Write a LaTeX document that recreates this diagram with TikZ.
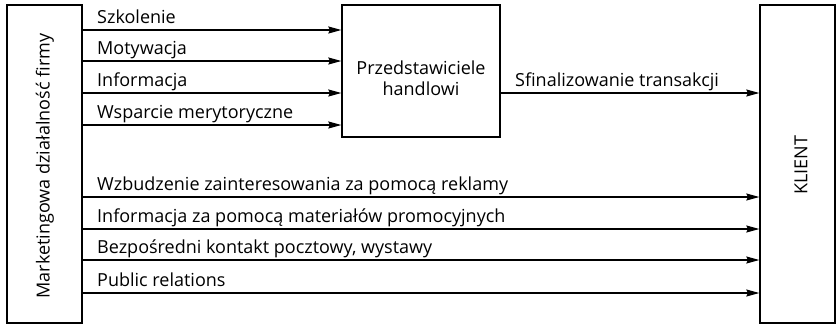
\documentclass[tikz,border=0pt]{standalone}
\usepackage{fontspec}
\setmainfont{Open Sans}
\usetikzlibrary{arrows.meta}
\begin{document}
\begin{tikzpicture}[x=1pt,y=-1pt,
  box/.style={draw,line width=1.3pt,inner sep=0pt},
  flow/.style={line width=1.3pt,-{Stealth[length=13pt,width=7pt,inset=1.5pt]}},
  txt/.style={font=\fontsize{18}{21}\selectfont},
  lbl/.style={txt,anchor=base west,inner sep=0pt}]
\useasboundingbox (0,0) rectangle (836,325);
\node[box,minimum width=75pt,minimum height=318pt] (mk) at (44.5,164) {};
\node[rotate=90,txt] (mkt) at (45,166) {Marketingowa działalność firmy};
\node[box,minimum width=158pt,minimum height=132pt] (pr) at (421,71) {};
\node[lbl,anchor=base] (pr1) at (421,74) {Przedstawiciele};
\node[lbl,anchor=base] (pr2) at (421,95) {handlowi};
\node[box,minimum width=75pt,minimum height=318pt] (kl) at (797.5,164) {};
\node[rotate=90,txt] (klt) at (801,165) {KLIENT};
\foreach \y/\t in {30/Szkolenie,61/Motywacja,93/Informacja,125/Wsparcie merytoryczne}{
  \draw[flow] (mk.east |- 0,\y) -- (pr.west |- 0,\y);
  \node[lbl] at (97,\y-7) {\t};
}
\draw[flow] (pr.east |- 0,93) -- (kl.west |- 0,93);
\node[lbl] at (515,86) {Sfinalizowanie transakcji};
\foreach \y/\t in {197/Wzbudzenie zainteresowania za pomocą reklamy,229/Informacja za pomocą materiałów promocyjnych,260/{Bezpośredni kontakt pocztowy, wystawy},293/Public relations}{
  \draw[flow] (mk.east |- 0,\y) -- (kl.west |- 0,\y);
  \node[lbl] at (97,\y-7) {\t};
}
\end{tikzpicture}
\end{document}
